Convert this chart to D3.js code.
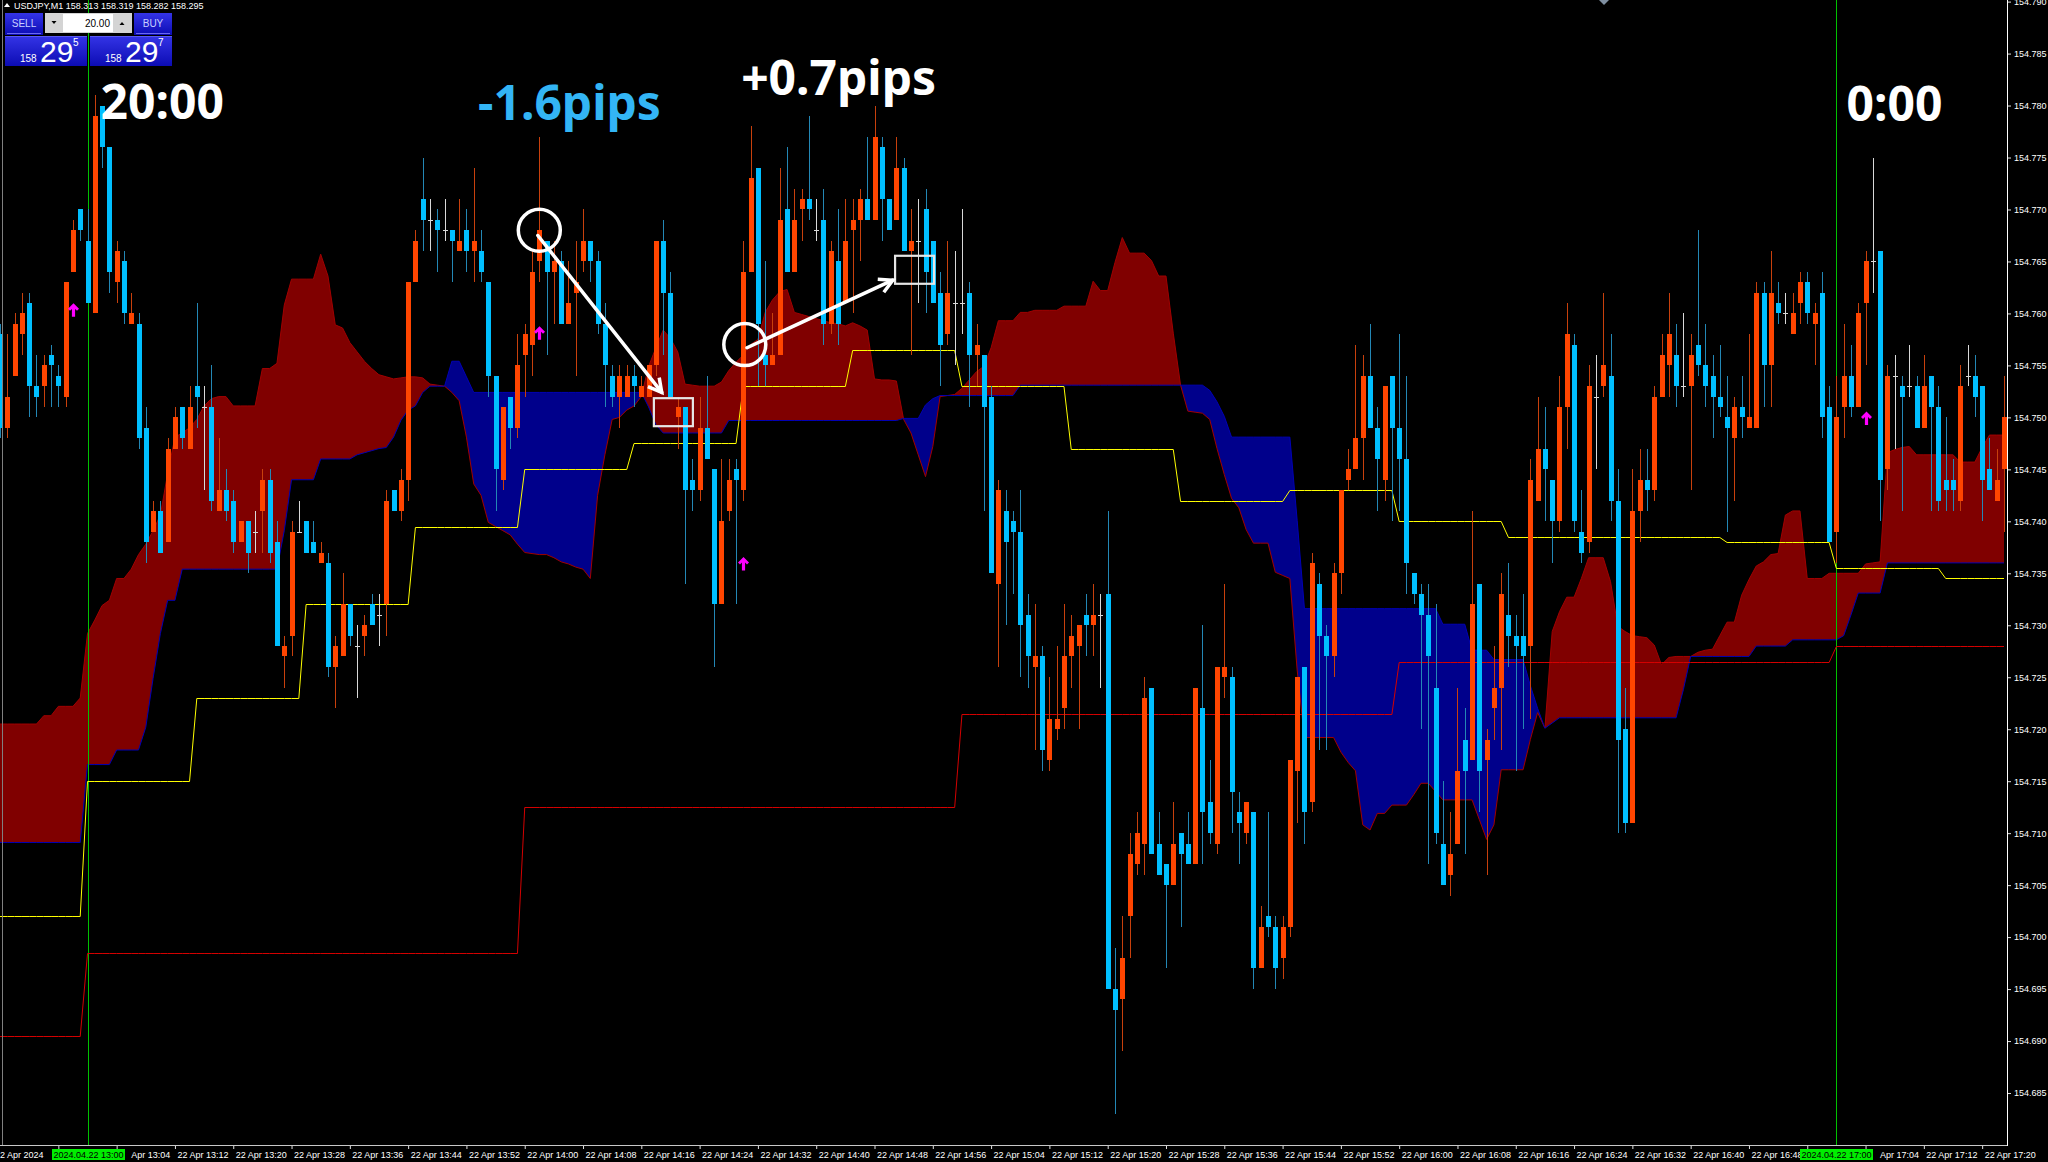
<!DOCTYPE html>
<html>
<head>
<meta charset="utf-8">
<title>USDJPY,M1</title>
<script src="https://cdn.jsdelivr.net/npm/d3@7"></script>
<style>
  html, body { margin: 0; padding: 0; background: #000; overflow: hidden; }
  #chart svg { display: block; }
  .axis text { font-family: Tahoma, 'Liberation Sans', Arial, sans-serif; font-size: 9px; fill: #fff; }
</style>
</head>
<body>
<div id="chart"></div>
<script>
// ---------------- data (USDJPY M1, 22 Apr 2024) ----------------
const firstBarTime = '2024-04-22 12:48';

const openPrices = [
  154.758,154.749,154.754,154.758,154.761,154.753,154.753,154.756,154.754,154.752,
  154.764,154.770,154.767,154.760,154.780,154.776,154.763,154.765,154.759,154.759,
  154.749,154.739,154.741,154.738,154.747,154.751,154.747,154.753,154.751,154.751,
  154.741,154.743,154.742,154.738,154.740,154.739,154.741,154.744,154.738,154.727,
  154.729,154.739,154.740,154.738,154.736,154.736,154.726,154.727,154.732,154.728,
  154.729,154.732,154.731,154.732,154.743,154.741,154.744,154.763,154.771,154.769,
  154.769,154.768,154.768,154.766,154.768,154.766,154.766,154.763,154.754,154.744,
  154.752,154.749,154.756,154.757,154.765,154.767,154.764,154.765,154.759,154.762,
  154.765,154.767,154.765,154.759,154.754,154.752,154.752,154.754,154.752,154.752,
  154.755,154.767,154.762,154.750,154.751,154.744,154.743,154.749,154.745,154.732,
  154.741,154.745,154.743,154.764,154.774,154.756,154.755,154.756,154.770,154.764,
  154.770,154.771,154.768,154.769,154.759,154.765,154.761,154.768,154.769,154.771,
  154.769,154.776,154.771,154.769,154.774,154.766,154.767,154.770,154.767,154.762,
  154.758,154.761,154.761,154.762,154.756,154.756,154.752,154.734,154.741,154.740,
  154.739,154.731,154.726,154.727,154.717,154.720,154.722,154.727,154.728,154.731,
  154.730,154.731,154.733,154.695,154.694,154.702,154.707,154.709,154.724,154.709,
  154.707,154.705,154.710,154.709,154.707,154.722,154.713,154.709,154.725,154.725,
  154.712,154.710,154.712,154.697,154.702,154.701,154.698,154.701,154.716,154.726,
  154.713,154.734,154.729,154.727,154.735,154.744,154.745,154.748,154.754,154.749,
  154.744,154.754,154.749,154.746,154.735,154.733,154.731,154.724,154.709,154.706,
  154.709,154.719,154.717,154.734,154.717,154.722,154.724,154.731,154.729,154.729,
  154.728,154.742,154.747,154.744,154.740,154.751,154.757,154.739,154.738,154.752,
  154.753,154.754,154.742,154.720,154.711,154.741,154.744,154.743,154.752,154.755,
  154.756,154.753,154.753,154.757,154.755,154.754,154.752,154.750,154.748,154.751,
  154.749,154.749,154.762,154.755,154.761,154.760,154.758,154.761,154.763,154.759,
  154.762,154.751,154.739,154.751,154.754,154.751,154.761,154.765,154.766,154.745,
  154.754,154.753,154.753,154.753,154.749,154.754,154.751,154.744,154.744,154.742,
  154.754,154.754,154.753,154.745,154.742,154.745
];
const highPrices = [
  154.759,154.758,154.760,154.762,154.762,154.756,154.756,154.757,154.755,154.763,
  154.769,154.770,154.770,154.781,154.780,154.776,154.767,154.766,154.762,154.760,
  154.751,154.742,154.742,154.748,154.751,154.751,154.753,154.761,154.753,154.755,
  154.748,154.745,154.743,154.740,154.740,154.741,154.745,154.745,154.740,154.729,
  154.740,154.742,154.740,154.740,154.738,154.737,154.729,154.735,154.732,154.730,
  154.731,154.733,154.733,154.743,154.743,154.745,154.763,154.768,154.775,154.771,
  154.770,154.771,154.768,154.771,154.770,154.774,154.768,154.763,154.754,154.751,
  154.752,154.758,154.759,154.766,154.777,154.767,154.767,154.766,154.765,154.767,
  154.770,154.767,154.766,154.761,154.755,154.755,154.755,154.755,154.754,154.755,
  154.767,154.769,154.764,154.752,154.751,154.746,154.752,154.754,154.745,154.746,
  154.746,154.746,154.767,154.778,154.774,154.765,154.760,154.774,154.776,154.772,
  154.772,154.779,154.771,154.772,154.767,154.770,154.771,154.771,154.772,154.777,
  154.780,154.777,154.771,154.777,154.775,154.770,154.771,154.772,154.767,154.764,
  154.767,154.766,154.770,154.763,154.759,154.756,154.753,154.744,154.743,154.741,
  154.743,154.733,154.732,154.728,154.725,154.728,154.732,154.731,154.730,154.733,
  154.734,154.733,154.741,154.699,154.702,154.710,154.712,154.725,154.724,154.712,
  154.707,154.713,154.710,154.712,154.724,154.730,154.717,154.726,154.734,154.726,
  154.714,154.713,154.712,154.703,154.712,154.702,154.702,154.717,154.725,154.726,
  154.737,154.735,154.730,154.736,154.743,154.747,154.757,154.756,154.759,154.751,
  154.753,154.754,154.758,154.754,154.735,154.734,154.734,154.732,154.715,154.712,
  154.724,154.722,154.741,154.734,154.720,154.728,154.735,154.736,154.731,154.733,
  154.746,154.752,154.751,154.744,154.754,154.761,154.758,154.743,154.755,154.756,
  154.762,154.758,154.745,154.724,154.745,154.747,154.747,154.753,154.758,154.762,
  154.759,154.760,154.758,154.768,154.759,154.756,154.757,154.754,154.752,154.754,
  154.758,154.763,154.763,154.766,154.763,154.762,154.762,154.764,154.764,154.761,
  154.764,154.753,154.754,154.759,154.757,154.761,154.766,154.775,154.766,154.755,
  154.756,154.754,154.757,154.754,154.756,154.754,154.753,154.750,154.746,154.755,
  154.757,154.756,154.753,154.748,154.747,154.754
];
const lowPrices = [
  154.748,154.748,154.754,154.756,154.750,154.750,154.751,154.751,154.751,154.751,
  154.764,154.767,154.761,154.760,154.774,154.762,154.761,154.759,154.759,154.747,
  154.736,154.739,154.737,154.738,154.747,154.747,154.747,154.749,154.743,154.741,
  154.741,154.740,154.737,154.738,154.735,154.737,154.737,154.736,154.728,154.724,
  154.727,154.739,154.737,154.737,154.736,154.725,154.722,154.727,154.728,154.723,
  154.727,154.730,154.728,154.729,154.741,154.740,154.742,154.763,154.766,154.766,
  154.764,154.767,154.763,154.766,154.764,154.763,154.763,154.752,154.741,154.743,
  154.747,154.748,154.752,154.754,154.763,154.756,154.759,154.759,154.759,154.754,
  154.764,154.763,154.758,154.751,154.751,154.749,154.752,154.751,154.752,154.752,
  154.754,154.756,154.752,154.747,154.734,154.741,154.742,154.746,154.726,154.732,
  154.740,154.732,154.742,154.764,154.753,154.753,154.755,154.756,154.764,154.764,
  154.767,154.769,154.767,154.757,154.758,154.757,154.761,154.760,154.765,154.769,
  154.769,154.767,154.768,154.769,154.766,154.756,154.761,154.760,154.761,154.753,
  154.757,154.755,154.758,154.751,154.753,154.741,154.735,154.726,154.730,154.733,
  154.725,154.724,154.718,154.716,154.716,154.719,154.720,154.724,154.720,154.727,
  154.727,154.724,154.695,154.683,154.689,154.698,154.706,154.706,154.708,154.706,
  154.697,154.705,154.701,154.707,154.707,154.707,154.709,154.708,154.723,154.710,
  154.707,154.709,154.695,154.697,154.700,154.695,154.696,154.700,154.711,154.709,
  154.712,154.718,154.718,154.725,154.733,154.743,154.745,154.744,154.749,154.741,
  154.742,154.740,154.741,154.733,154.732,154.720,154.707,154.709,154.705,154.704,
  154.709,154.708,154.717,154.712,154.706,154.719,154.718,154.726,154.716,154.720,
  154.721,154.742,154.740,154.736,154.739,154.747,154.739,154.736,154.737,154.745,
  154.752,154.740,154.710,154.710,154.711,154.738,154.741,154.742,154.752,154.752,
  154.751,154.752,154.743,154.754,154.751,154.748,154.750,154.739,154.742,154.748,
  154.749,154.749,154.751,154.751,154.759,154.759,154.758,154.759,154.759,154.755,
  154.748,154.738,154.736,154.748,154.750,154.751,154.755,154.762,154.740,154.743,
  154.747,154.741,154.752,154.749,154.749,154.741,154.741,154.741,154.741,154.741,
  154.753,154.750,154.740,154.743,154.742,154.739
];
const closePrices = [
  154.749,154.752,154.759,154.760,154.753,154.752,154.755,154.755,154.753,154.763,
  154.768,154.768,154.761,154.779,154.776,154.764,154.766,154.760,154.760,154.748,
  154.738,154.741,154.737,154.747,154.750,154.748,154.751,154.752,154.751,154.742,
  154.743,154.741,154.738,154.740,154.737,154.739,154.744,154.737,154.728,154.728,
  154.739,154.739,154.737,154.737,154.737,154.726,154.728,154.732,154.729,154.728,
  154.730,154.730,154.731,154.742,154.741,154.744,154.763,154.767,154.769,154.769,
  154.768,154.768,154.767,154.767,154.766,154.767,154.764,154.754,154.745,154.751,
  154.749,154.755,154.758,154.764,154.768,154.764,154.765,154.759,154.761,154.763,
  154.767,154.765,154.759,154.755,154.752,154.754,154.754,154.753,154.753,154.755,
  154.767,154.762,154.752,154.751,154.743,154.743,154.749,154.746,154.732,154.740,
  154.744,154.744,154.764,154.773,154.759,154.755,154.756,154.769,154.764,154.769,
  154.771,154.770,154.768,154.759,154.766,154.759,154.767,154.769,154.771,154.769,
  154.777,154.771,154.768,154.774,154.766,154.767,154.767,154.764,154.761,154.757,
  154.762,154.761,154.761,154.756,154.757,154.751,154.735,154.743,154.738,154.739,
  154.730,154.727,154.727,154.718,154.721,154.721,154.727,154.729,154.730,154.730,
  154.731,154.731,154.695,154.693,154.698,154.708,154.710,154.723,154.708,154.706,
  154.705,154.709,154.708,154.707,154.724,154.712,154.710,154.726,154.726,154.714,
  154.711,154.713,154.697,154.701,154.701,154.697,154.701,154.717,154.725,154.712,
  154.736,154.729,154.727,154.735,154.743,154.745,154.748,154.754,154.749,154.746,
  154.753,154.749,154.746,154.736,154.733,154.731,154.727,154.710,154.705,154.708,
  154.716,154.716,154.732,154.716,154.719,154.724,154.733,154.729,154.728,154.727,
  154.744,154.747,154.745,154.740,154.751,154.758,154.740,154.737,154.753,154.752,
  154.755,154.742,154.719,154.711,154.741,154.744,154.743,154.752,154.756,154.758,
  154.753,154.753,154.756,154.755,154.753,154.752,154.751,154.749,154.751,154.750,
  154.750,154.762,154.755,154.762,154.760,154.760,154.760,154.763,154.760,154.760,
  154.750,154.738,154.750,154.754,154.751,154.760,154.765,154.765,154.744,154.754,
  154.754,154.752,154.753,154.749,154.753,154.751,154.742,154.743,154.743,154.753,
  154.754,154.752,154.744,154.743,154.744,154.750
];

// Ichimoku cloud spans, one value per bar
const spanA = [
  154.7205,154.7205,154.7205,154.7205,154.7205,154.7205,154.7213,154.7213,154.7222,154.7222,
  154.7222,154.7230,154.7292,154.7305,154.7319,154.7324,154.7345,154.7345,154.7354,154.7368,
  154.7378,154.7391,154.7406,154.7446,154.7481,154.7485,154.7490,154.7498,154.7511,154.7518,
  154.7520,154.7520,154.7511,154.7511,154.7511,154.7511,154.7547,154.7547,154.7552,154.7608,
  154.7633,154.7633,154.7633,154.7633,154.7657,154.7636,154.7589,154.7586,154.7572,154.7563,
  154.7554,154.7547,154.7541,154.7539,154.7537,154.7538,154.7539,154.7539,154.7538,154.7532,
  154.7531,154.7530,154.7524,154.7516,154.7481,154.7436,154.7425,154.7399,154.7395,154.7391,
  154.7387,154.7378,154.7370,154.7369,154.7368,154.7368,154.7365,154.7361,154.7359,154.7356,
  154.7354,154.7345,154.7425,154.7464,154.7498,154.7500,154.7507,154.7511,154.7520,154.7549,
  154.7567,154.7584,154.7576,154.7563,154.7532,154.7531,154.7530,154.7530,154.7530,154.7534,
  154.7545,154.7553,154.7560,154.7570,154.7575,154.7601,154.7613,154.7621,154.7623,154.7601,
  154.7599,154.7597,154.7595,154.7593,154.7591,154.7590,154.7588,154.7591,154.7588,154.7584,
  154.7537,154.7536,154.7536,154.7535,154.7498,154.7485,154.7464,154.7443,154.7472,154.7520,
  154.7521,154.7522,154.7528,154.7536,154.7544,154.7549,154.7567,154.7593,154.7593,154.7593,
  154.7601,154.7601,154.7603,154.7603,154.7603,154.7603,154.7607,154.7607,154.7607,154.7607,
  154.7631,154.7622,154.7622,154.7649,154.7673,154.7658,154.7658,154.7658,154.7651,154.7636,
  154.7636,154.7581,154.7531,154.7506,154.7505,154.7504,154.7498,154.7470,154.7445,154.7422,
  154.7413,154.7392,154.7379,154.7379,154.7379,154.7351,154.7348,154.7345,154.7257,154.7192,
  154.7192,154.7192,154.7192,154.7192,154.7178,154.7168,154.7160,154.7108,154.7103,154.7119,
  154.7119,154.7127,154.7127,154.7127,154.7137,154.7148,154.7148,154.7140,154.7132,154.7132,
  154.7132,154.7132,154.7132,154.7113,154.7094,154.7108,154.7161,154.7161,154.7161,154.7161,
  154.7190,154.7216,154.7201,154.7294,154.7313,154.7327,154.7327,154.7345,154.7365,154.7365,
  154.7365,154.7342,154.7299,154.7294,154.7290,154.7289,154.7288,154.7281,154.7262,154.7269,
  154.7270,154.7270,154.7270,154.7274,154.7276,154.7277,154.7290,154.7303,154.7303,154.7329,
  154.7344,154.7357,154.7361,154.7368,154.7369,154.7406,154.7410,154.7410,154.7345,154.7345,
  154.7345,154.7350,154.7350,154.7350,154.7350,154.7350,154.7359,154.7360,154.7361,154.7466,
  154.7469,154.7471,154.7472,154.7464,154.7464,154.7464,154.7464,154.7464,154.7464,154.7457,
  154.7457,154.7457,154.7471,154.7483,154.7483,154.7483
];
const spanB = [
  154.7091,154.7091,154.7091,154.7091,154.7091,154.7091,154.7091,154.7091,154.7091,154.7091,
  154.7091,154.7091,154.7166,154.7166,154.7166,154.7166,154.7180,154.7180,154.7180,154.7180,
  154.7202,154.7249,154.7292,154.7324,154.7324,154.7354,154.7354,154.7354,154.7354,154.7354,
  154.7354,154.7354,154.7354,154.7354,154.7354,154.7354,154.7354,154.7354,154.7354,154.7391,
  154.7440,154.7440,154.7440,154.7440,154.7460,154.7460,154.7460,154.7460,154.7460,154.7464,
  154.7466,154.7468,154.7470,154.7471,154.7481,154.7497,154.7507,154.7511,154.7524,154.7530,
  154.7530,154.7530,154.7554,154.7554,154.7539,154.7524,154.7524,154.7524,154.7524,154.7524,
  154.7524,154.7524,154.7524,154.7524,154.7524,154.7524,154.7524,154.7524,154.7524,154.7524,
  154.7524,154.7524,154.7524,154.7524,154.7524,154.7524,154.7524,154.7524,154.7524,154.7510,
  154.7493,154.7485,154.7485,154.7485,154.7485,154.7485,154.7485,154.7485,154.7485,154.7485,
  154.7497,154.7497,154.7497,154.7497,154.7497,154.7497,154.7497,154.7497,154.7497,154.7497,
  154.7497,154.7497,154.7497,154.7497,154.7497,154.7497,154.7497,154.7497,154.7497,154.7497,
  154.7497,154.7497,154.7497,154.7497,154.7499,154.7499,154.7499,154.7512,154.7518,154.7521,
  154.7521,154.7521,154.7521,154.7521,154.7521,154.7521,154.7521,154.7521,154.7521,154.7521,
  154.7531,154.7531,154.7531,154.7531,154.7531,154.7531,154.7531,154.7531,154.7531,154.7531,
  154.7531,154.7531,154.7531,154.7531,154.7531,154.7531,154.7531,154.7531,154.7531,154.7531,
  154.7531,154.7531,154.7531,154.7531,154.7531,154.7531,154.7526,154.7515,154.7501,154.7481,
  154.7481,154.7481,154.7481,154.7481,154.7481,154.7481,154.7481,154.7481,154.7401,154.7316,
  154.7316,154.7316,154.7316,154.7316,154.7316,154.7316,154.7316,154.7316,154.7316,154.7316,
  154.7316,154.7316,154.7316,154.7316,154.7316,154.7316,154.7316,154.7316,154.7301,154.7301,
  154.7301,154.7301,154.7276,154.7276,154.7276,154.7267,154.7267,154.7267,154.7267,154.7267,
  154.7242,154.7220,154.7201,154.7206,154.7211,154.7211,154.7211,154.7211,154.7211,154.7211,
  154.7211,154.7211,154.7211,154.7211,154.7211,154.7211,154.7211,154.7211,154.7211,154.7211,
  154.7211,154.7238,154.7270,154.7270,154.7270,154.7270,154.7270,154.7270,154.7270,154.7270,
  154.7270,154.7280,154.7280,154.7280,154.7280,154.7280,154.7286,154.7286,154.7286,154.7286,
  154.7286,154.7286,154.7286,154.7290,154.7310,154.7331,154.7331,154.7331,154.7331,154.7360,
  154.7360,154.7360,154.7360,154.7360,154.7360,154.7360,154.7360,154.7360,154.7360,154.7360,
  154.7360,154.7360,154.7360,154.7360,154.7360,154.7360
];

// higher timeframe lines: yellow one value per 15 minutes, red one value per hour
const yellowStart  = '2024-04-22 12:45';
const yellowLevels = [154.7020,154.7150,154.7230,154.7320,154.7395,154.7450,154.7475,154.7530,154.7565,154.7530,
                      154.7470,154.7420,154.7430,154.7400,154.7385,154.7385,154.7380,154.7355,154.7345];
const redStart  = '2024-04-22 12:00';
const redLevels = [154.6905,154.6985,154.7125,154.7215,154.7265,154.7280];

// signal arrows
const signalTimes  = ['12:58','14:02','14:30','17:04'];
const signalPrices = [154.7603,154.7581,154.7359,154.7499];

// axis ticks
const priceTicks = [154.685,154.690,154.695,154.700,154.705,154.710,154.715,154.720,154.725,154.730,154.735,154.740,
                    154.745,154.750,154.755,154.760,154.765,154.770,154.775,154.780,154.785,154.790];
const timeTicks = ['12:56','13:04','13:12','13:20','13:28','13:36','13:44','13:52','14:00','14:08','14:16','14:24',
                   '14:32','14:40','14:48','14:56','15:04','15:12','15:20','15:28','15:36','15:44','15:52','16:00',
                   '16:08','16:16','16:24','16:32','16:40','16:48','16:56','17:04','17:12','17:20'];
const markerTimes = ['13:00','17:00'];

// ---------------- chart ----------------
const width  = 2048;
const height = 1162;
const plotRight  = 2007;
const plotBottom = 1145;

const day   = '2024-04-22 ';
const parse = d3.timeParse('%Y-%m-%d %H:%M');
const t0    = parse(firstBarTime);

const bars = openPrices.map((o, i) => ({
  time:  d3.timeMinute.offset(t0, i),
  open:  o,
  high:  highPrices[i],
  low:   lowPrices[i],
  close: closePrices[i],
  a:     spanA[i],
  b:     spanB[i]
}));

const x = d3.scaleTime()
  .domain([parse(day + '13:00'), parse(day + '17:00')])
  .range([87.5, 1836.4]);

const y = d3.scaleLinear()
  .domain([154.680, 154.790])
  .range([plotBottom, 1.6]);

const minuteAt = m => new Date(+parse(day + '13:00') + m * 60000);

const svg = d3.select('#chart')
  .append('svg')
  .attr('width', width)
  .attr('height', height)
  .style('background', '#000');

svg.append('clipPath').attr('id', 'plotClip')
  .append('rect').attr('x', 0).attr('y', 0).attr('width', plotRight).attr('height', plotBottom);

const plot = svg.append('g').attr('clip-path', 'url(#plotClip)');

// cloud: insert the crossing points so both colours meet cleanly
const cloud = [];
bars.forEach((d, i) => {
  cloud.push({time: d.time, a: d.a, b: d.b});
  const n = bars[i + 1];
  if (n) {
    const d0 = d.a - d.b, d1 = n.a - n.b;
    if (d0 * d1 < 0) {
      const f = d0 / (d0 - d1);
      const v = d.a + f * (n.a - d.a);
      cloud.push({time: new Date(+d.time + f * 60000), a: v, b: v});
    }
  }
});

plot.append('path')
  .datum(cloud)
  .attr('fill', '#800000')
  .attr('d', d3.area().x(d => x(d.time)).y0(d => y(d.b)).y1(d => y(Math.max(d.a, d.b))));

plot.append('path')
  .datum(cloud)
  .attr('fill', '#00008b')
  .attr('d', d3.area().x(d => x(d.time)).y0(d => y(d.a)).y1(d => y(Math.max(d.a, d.b))));

plot.append('path')
  .datum(bars)
  .attr('fill', 'none')
  .attr('stroke', '#a00000')
  .attr('stroke-width', 1)
  .attr('d', d3.line().x(d => x(d.time)).y(d => y(d.a)));

plot.append('path')
  .datum(bars)
  .attr('fill', 'none')
  .attr('stroke', '#0000b4')
  .attr('stroke-width', 1)
  .attr('d', d3.line().x(d => x(d.time)).y(d => y(d.b)));

// vertical marker lines
plot.selectAll('.marker')
  .data(markerTimes)
  .join('line')
    .attr('class', 'marker')
    .attr('x1', d => Math.round(x(parse(day + d))) + 0.5)
    .attr('x2', d => Math.round(x(parse(day + d))) + 0.5)
    .attr('y1', 0)
    .attr('y2', plotBottom)
    .attr('stroke', '#00c000')
    .attr('stroke-width', 1);

// higher timeframe step lines
const yellowT0 = parse(yellowStart);
const redT0    = parse(redStart);
const yellowPts = bars.map(d => ({time: d.time, v: yellowLevels[Math.floor(d3.timeMinute.count(yellowT0, d.time) / 15)]}));
const redPts    = bars.map(d => ({time: d.time, v: redLevels[Math.floor(d3.timeMinute.count(redT0, d.time) / 60)]}));
const stepLine  = d3.line().x(d => x(d.time)).y(d => Math.round(y(d.v)) + 0.5);

plot.append('path')
  .datum(redPts)
  .attr('fill', 'none')
  .attr('stroke', '#d40000')
  .attr('stroke-width', 1)
  .attr('d', stepLine);

plot.append('path')
  .datum(yellowPts)
  .attr('fill', 'none')
  .attr('stroke', '#ffff00')
  .attr('stroke-width', 1)
  .attr('d', stepLine);

// candles
const upBody = '#ff4500', upWick = '#c8400c';
const dnBody = '#00bfff', dnWick = '#2387b5';
const doji   = '#d8d8d8';
const cx = d => Math.round(x(d.time));

const candles = plot.append('g')
  .attr('shape-rendering', 'crispEdges')
  .selectAll('g')
  .data(bars)
  .join('g');

candles.append('line')
  .attr('x1', d => cx(d) + 0.5)
  .attr('x2', d => cx(d) + 0.5)
  .attr('y1', d => y(d.high))
  .attr('y2', d => y(d.low))
  .attr('stroke', d => d.close > d.open ? upWick : d.close < d.open ? dnWick : doji);

candles.filter(d => d.close !== d.open)
  .append('rect')
  .attr('x', d => cx(d) - 2)
  .attr('width', 5)
  .attr('y', d => y(Math.max(d.open, d.close)))
  .attr('height', d => Math.max(1, y(Math.min(d.open, d.close)) - y(Math.max(d.open, d.close))))
  .attr('fill', d => d.close > d.open ? upBody : dnBody);

candles.filter(d => d.close === d.open)
  .append('line')
  .attr('x1', d => cx(d) - 2)
  .attr('x2', d => cx(d) + 3)
  .attr('y1', d => Math.round(y(d.open)) + 0.5)
  .attr('y2', d => Math.round(y(d.open)) + 0.5)
  .attr('stroke', doji);

// signal arrows
plot.selectAll('.signal')
  .data(signalTimes.map((t, i) => ({time: parse(day + t), price: signalPrices[i]})))
  .join('path')
    .attr('class', 'signal')
    .attr('transform', d => `translate(${Math.round(x(d.time)) + 0.5},${y(d.price)})`)
    .attr('d', 'M0,-7 L5.5,-1.5 L3.5,0.5 L1.6,-1.4 L1.6,6.5 L-1.6,6.5 L-1.6,-1.4 L-3.5,0.5 L-5.5,-1.5 Z')
    .attr('fill', '#ff00ff');

// hand-drawn annotations (minute from 13:00, price)
const circleNotes = [{m: 62, p: 154.768}, {m: 90.2, p: 154.757}];
const boxNotes    = [{m: 80.4, p: 154.7505}, {m: 113.5, p: 154.7642}];
const arrowNotes  = [{m1: 61.8, p1: 154.7675, m2: 78.8, p2: 154.7524},
                     {m1: 90.5, p1: 154.7567, m2: 110.5, p2: 154.7632}];
const textNotes   = [
  {text: '20:00',    m: 1.8,   p: 154.7787, fill: '#ffffff'},
  {text: '-1.6pips', m: 53.6,  p: 154.7786, fill: '#33b5f5'},
  {text: '+0.7pips', m: 89.7,  p: 154.7810, fill: '#ffffff'},
  {text: '0:00',     m: 241.4, p: 154.7785, fill: '#ffffff'}
];

const notes = svg.append('g').attr('clip-path', 'url(#plotClip)');

notes.selectAll('.circ')
  .data(circleNotes)
  .join('circle')
    .attr('cx', d => x(minuteAt(d.m)))
    .attr('cy', d => y(d.p))
    .attr('r', 21)
    .attr('fill', 'none')
    .attr('stroke', '#ffffff')
    .attr('stroke-width', 3.5);

notes.selectAll('.box')
  .data(boxNotes)
  .join('rect')
    .attr('x', d => x(minuteAt(d.m)) - 19.5)
    .attr('y', d => y(d.p) - 14)
    .attr('width', 39)
    .attr('height', 28)
    .attr('fill', 'none')
    .attr('stroke', '#e6e6e6')
    .attr('stroke-width', 2.2);

notes.selectAll('.arrow')
  .data(arrowNotes)
  .join('g')
    .each(function(d) {
      const xa = x(minuteAt(d.m1)), ya = y(d.p1);
      const xb = x(minuteAt(d.m2)), yb = y(d.p2);
      const ang = Math.atan2(yb - ya, xb - xa);
      const len = 15, spread = 0.5;
      const g = d3.select(this);
      g.append('line')
        .attr('x1', xa).attr('y1', ya).attr('x2', xb).attr('y2', yb)
        .attr('stroke', '#ffffff').attr('stroke-width', 3.5).attr('stroke-linecap', 'round');
      g.append('path')
        .attr('d', `M${xb - len * Math.cos(ang - spread)},${yb - len * Math.sin(ang - spread)} L${xb},${yb} L${xb - len * Math.cos(ang + spread)},${yb - len * Math.sin(ang + spread)}`)
        .attr('fill', 'none')
        .attr('stroke', '#ffffff')
        .attr('stroke-width', 3.5)
        .attr('stroke-linejoin', 'miter');
    });

notes.selectAll('.note')
  .data(textNotes)
  .join('text')
    .attr('x', d => x(minuteAt(d.m)))
    .attr('y', d => y(d.p))
    .attr('fill', d => d.fill)
    .style('font-family', "'Noto Sans', 'Open Sans', sans-serif")
    .style('font-weight', 700)
    .style('font-size', '48px')
    .text(d => d.text);

// ---------------- axes ----------------
svg.append('line')
  .attr('x1', 2.5).attr('x2', 2.5).attr('y1', 0).attr('y2', plotBottom)
  .attr('stroke', '#808080');

// labels that sit right next to a marker box lose their day part (as on screen),
// labels fully under a marker box are not printed
const markerDates = markerTimes.map(t => parse(day + t));
const nearMarker  = d => markerDates.map(m => (d - m) / 60000).find(v => v > -6 && v < 6);
const fmtFull  = d3.timeFormat('%d %b %H:%M');
const fmtShort = d3.timeFormat('%b %H:%M');

const xAxis = d3.axisBottom(x)
  .tickValues(timeTicks.map(t => parse(day + t)))
  .tickFormat(d => {
    const off = nearMarker(d);
    if (off === undefined) return fmtFull(d);
    return off > 0 ? fmtShort(d) : '';
  })
  .tickSize(4);

svg.append('g')
  .attr('class', 'axis')
  .attr('transform', `translate(0,${plotBottom})`)
  .call(xAxis)
  .call(g => g.select('.domain').remove())
  .call(g => g.selectAll('.tick line').attr('stroke', '#e0e0e0'))
  .call(g => g.selectAll('.tick text')
    .attr('text-anchor', 'start')
    .attr('x', d => nearMarker(d) > 0 ? 14 : 2)
    .attr('y', 13)
    .attr('dy', null));

svg.append('text')
  .attr('x', 0).attr('y', plotBottom + 13)
  .style('font-family', "Tahoma, 'Liberation Sans', Arial, sans-serif")
  .style('font-size', '9px')
  .attr('fill', '#fff')
  .text('2 Apr 2024');

svg.append('line')
  .attr('x1', 0).attr('x2', plotRight).attr('y1', plotBottom + 0.5).attr('y2', plotBottom + 0.5)
  .attr('stroke', '#c8c8c8');

// marker labels on the time axis
const fmtMarker = d3.timeFormat('%Y.%m.%d %H:%M');
const markerLbl = svg.selectAll('.markerLbl')
  .data(markerDates)
  .join('g')
    .attr('class', 'markerLbl')
    .attr('transform', d => `translate(${Math.round(x(d))},${plotBottom + 4})`);

markerLbl.append('rect')
  .attr('x', -36).attr('y', 0).attr('width', 73).attr('height', 11)
  .attr('fill', '#00ee00');

markerLbl.append('text')
  .attr('x', 0.5).attr('y', 9)
  .attr('text-anchor', 'middle')
  .style('font-family', "Tahoma, 'Liberation Sans', Arial, sans-serif")
  .style('font-size', '9px')
  .attr('fill', '#000')
  .text(d => fmtMarker(d));

const yAxis = d3.axisRight(y)
  .tickValues(priceTicks)
  .tickFormat(d3.format('.3f'))
  .tickSize(4);

svg.append('g')
  .attr('class', 'axis')
  .attr('transform', `translate(${plotRight},0)`)
  .call(yAxis)
  .call(g => g.select('.domain').remove())
  .call(g => g.selectAll('.tick line').attr('stroke', '#e0e0e0'));

svg.append('line')
  .attr('x1', plotRight + 0.5).attr('x2', plotRight + 0.5).attr('y1', 0).attr('y2', plotBottom + 1)
  .attr('stroke', '#ffffff');

// small object marker at the top
svg.append('path')
  .attr('d', 'M1599,0 L1609,0 L1604,5 Z')
  .attr('fill', '#7f8fa0');

// ---------------- one click trading panel ----------------
const panel = svg.append('g')
  .style('font-family', "Tahoma, 'Liberation Sans', Arial, sans-serif");

panel.append('path').attr('d', 'M4,7 L7,3 L10,7 Z').attr('fill', '#fff');
panel.append('text')
  .attr('x', 14).attr('y', 8.5)
  .attr('fill', '#fff')
  .style('font-size', '9px')
  .text('USDJPY,M1  158.313 158.319 158.282 158.295');

const grad = svg.append('defs').append('linearGradient')
  .attr('id', 'btnGrad').attr('x1', 0).attr('x2', 0).attr('y1', 0).attr('y2', 1);
grad.append('stop').attr('offset', '0%').attr('stop-color', '#3434e6');
grad.append('stop').attr('offset', '100%').attr('stop-color', '#0c0cb4');

[{x: 5, label: 'SELL'}, {x: 134, label: 'BUY'}].forEach(b => {
  panel.append('rect').attr('x', b.x).attr('y', 13).attr('width', 38).attr('height', 22).attr('fill', 'url(#btnGrad)');
  panel.append('line').attr('x1', b.x + 2).attr('x2', b.x + 36).attr('y1', 33.5).attr('y2', 33.5).attr('stroke', '#6a6af0');
  panel.append('text').attr('x', b.x + 19).attr('y', 27).attr('text-anchor', 'middle')
    .attr('fill', '#c8d0ff').style('font-size', '10px').text(b.label);
});

panel.append('rect').attr('x', 45).attr('y', 13).attr('width', 87).attr('height', 20).attr('fill', '#d4d4d4');
panel.append('rect').attr('x', 63).attr('y', 14).attr('width', 50).attr('height', 18).attr('fill', '#ffffff');
panel.append('path').attr('d', 'M51.5,21 L56.5,21 L54,24 Z').attr('fill', '#000');
panel.append('path').attr('d', 'M119.5,25 L124.5,25 L122,22 Z').attr('fill', '#000');
panel.append('text').attr('x', 110).attr('y', 27).attr('text-anchor', 'end')
  .attr('fill', '#000').style('font-size', '10px').text('20.00');

[{x: 5, big: '29', frac: '5'}, {x: 90, big: '29', frac: '7'}].forEach(b => {
  panel.append('rect').attr('x', b.x).attr('y', 36).attr('width', 82).attr('height', 30).attr('fill', 'url(#btnGrad)');
  panel.append('line').attr('x1', b.x).attr('x2', b.x + 82).attr('y1', 36.5).attr('y2', 36.5).attr('stroke', '#5a5af0');
  panel.append('text').attr('x', b.x + 15).attr('y', 62).attr('fill', '#fff').style('font-size', '10px').text('158');
  panel.append('text').attr('x', b.x + 35).attr('y', 62).attr('fill', '#fff').style('font-size', '30px').text(b.big);
  panel.append('text').attr('x', b.x + 68).attr('y', 46).attr('fill', '#fff').style('font-size', '10px').text(b.frac);
});
</script>
</body>
</html>
